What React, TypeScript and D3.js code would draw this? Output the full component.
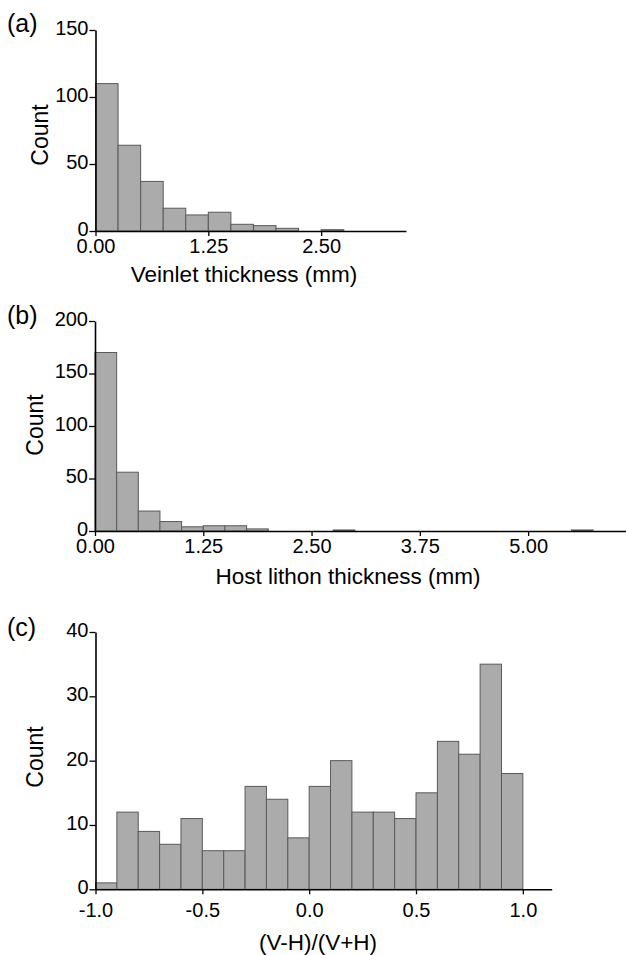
import React, { useRef, useEffect } from 'react';
import * as d3 from 'd3';

// counts per bin, bin width 0.25 mm starting at 0
const veinletCounts = [110, 64, 37, 17, 12, 14, 5, 4, 2, 0, 1];
const hostCounts = [170, 56, 19, 9, 4, 5, 5, 2, 0, 0, 0, 1, 0, 0, 0, 0, 0, 0, 0, 0, 0, 0, 1];
// bin width 0.1 starting at -1
const ratioCounts = [1, 12, 9, 7, 11, 6, 6, 16, 14, 8, 16, 20, 12, 12, 11, 15, 23, 21, 35, 18];

const veinletTicks = [0, 1.25, 2.5];
const hostTicks = [0, 1.25, 2.5, 3.75, 5.0];
const ratioTicks = [-1, -0.5, 0, 0.5, 1];

const FONT = 'Liberation Sans, Arial, sans-serif';

function drawPanel(svg, op) {
    const x = d3.scaleLinear().domain(op.xDomain).range([op.left, op.right]);
    const y = d3.scaleLinear().domain(op.yDomain).range([op.bottom, op.top]);

    const bins = op.counts.map((c, i) => ({
        x0: op.start + i * op.binWidth,
        x1: op.start + (i + 1) * op.binWidth,
        count: c
    })).filter(d => d.count > 0);

    const g = svg.append('g');

    g.append('g')
        .selectAll('rect')
        .data(bins)
        .enter().append('rect')
        .attr('x', d => x(d.x0))
        .attr('y', d => y(d.count))
        .attr('width', d => x(d.x1) - x(d.x0))
        .attr('height', d => y(0) - y(d.count))
        .attr('fill', '#ababab')
        .attr('stroke', '#5a5a5a')
        .attr('stroke-width', 1);

    const fmt = v => d3.format(op.fmt)(v).replace('\u2212', '-');

    const xAxis = d3.axisBottom(x).tickValues(op.xTicks).tickFormat(fmt)
        .tickSizeInner(5).tickSizeOuter(0).tickPadding(op.xPad);
    const yAxis = d3.axisLeft(y).ticks(op.yTickCount).tickFormat(d3.format('d'))
        .tickSizeInner(6).tickSizeOuter(0).tickPadding(1);

    const gx = g.append('g')
        .attr('transform', 'translate(0,' + op.bottom + ')')
        .call(xAxis);
    const gy = g.append('g')
        .attr('transform', 'translate(' + op.left + ',0)')
        .call(yAxis);

    [gx, gy].forEach(a => {
        a.selectAll('path').attr('stroke', '#000').attr('stroke-width', 1.6);
        a.selectAll('line').attr('stroke', '#000').attr('stroke-width', 1.3);
        a.selectAll('text').attr('font-family', FONT).attr('font-size', 20).attr('fill', '#000');
    });
    // nudge y tick labels up a touch so "0" clears the x labels
    gy.selectAll('text').attr('dy', '0.22em');

    // panel letter
    g.append('text')
        .attr('x', 7).attr('y', op.letterY)
        .attr('font-family', FONT).attr('font-size', 25)
        .text(op.letter);

    // y label
    g.append('text')
        .attr('transform', 'translate(' + op.countX + ',' + op.countY + ') rotate(-90)')
        .attr('text-anchor', 'middle')
        .attr('font-family', FONT).attr('font-size', 23)
        .text('Count');

    // x label
    g.append('text')
        .attr('x', op.xLabelX).attr('y', op.xLabelY)
        .attr('text-anchor', 'middle')
        .attr('font-family', FONT).attr('font-size', 22.5)
        .text(op.xLabel);
}

export default function App() {
    const svg_ref = useRef(null);

    useEffect(() => {
        const svg = d3.select(svg_ref.current);
        svg.selectAll('*').remove();

        drawPanel(svg, {
            counts: veinletCounts, start: 0, binWidth: 0.25,
            xDomain: [0, 3.44], yDomain: [0, 150],
            left: 95.5, right: 406, top: 30, bottom: 231,
            xTicks: veinletTicks, fmt: '.2f', xPad: 3, yTickCount: 3,
            letter: '(a)', letterY: 32,
            countX: 48, countY: 135,
            xLabel: 'Veinlet thickness (mm)', xLabelX: 244, xLabelY: 282
        });

        drawPanel(svg, {
            counts: hostCounts, start: 0, binWidth: 0.25,
            xDomain: [0, 6.13], yDomain: [0, 200],
            left: 95, right: 626, top: 321, bottom: 531,
            xTicks: hostTicks, fmt: '.2f', xPad: 3, yTickCount: 4,
            letter: '(b)', letterY: 324,
            countX: 43, countY: 425,
            xLabel: 'Host lithon thickness (mm)', xLabelX: 348, xLabelY: 584
        });

        drawPanel(svg, {
            counts: ratioCounts, start: -1, binWidth: 0.1,
            xDomain: [-1, 1.135], yDomain: [0, 40],
            left: 95.5, right: 551.7, top: 632, bottom: 889.3,
            xTicks: ratioTicks, fmt: '.1f', xPad: 9, yTickCount: 4,
            letter: '(c)', letterY: 636,
            countX: 43, countY: 757,
            xLabel: '(V-H)/(V+H)', xLabelX: 318, xLabelY: 950
        });
    }, []);

    return (
        <svg ref={svg_ref} width={626} height={955}
            style={{ position: 'absolute', left: 0, top: 0, background: '#fff' }}>
        </svg>
    );
}
